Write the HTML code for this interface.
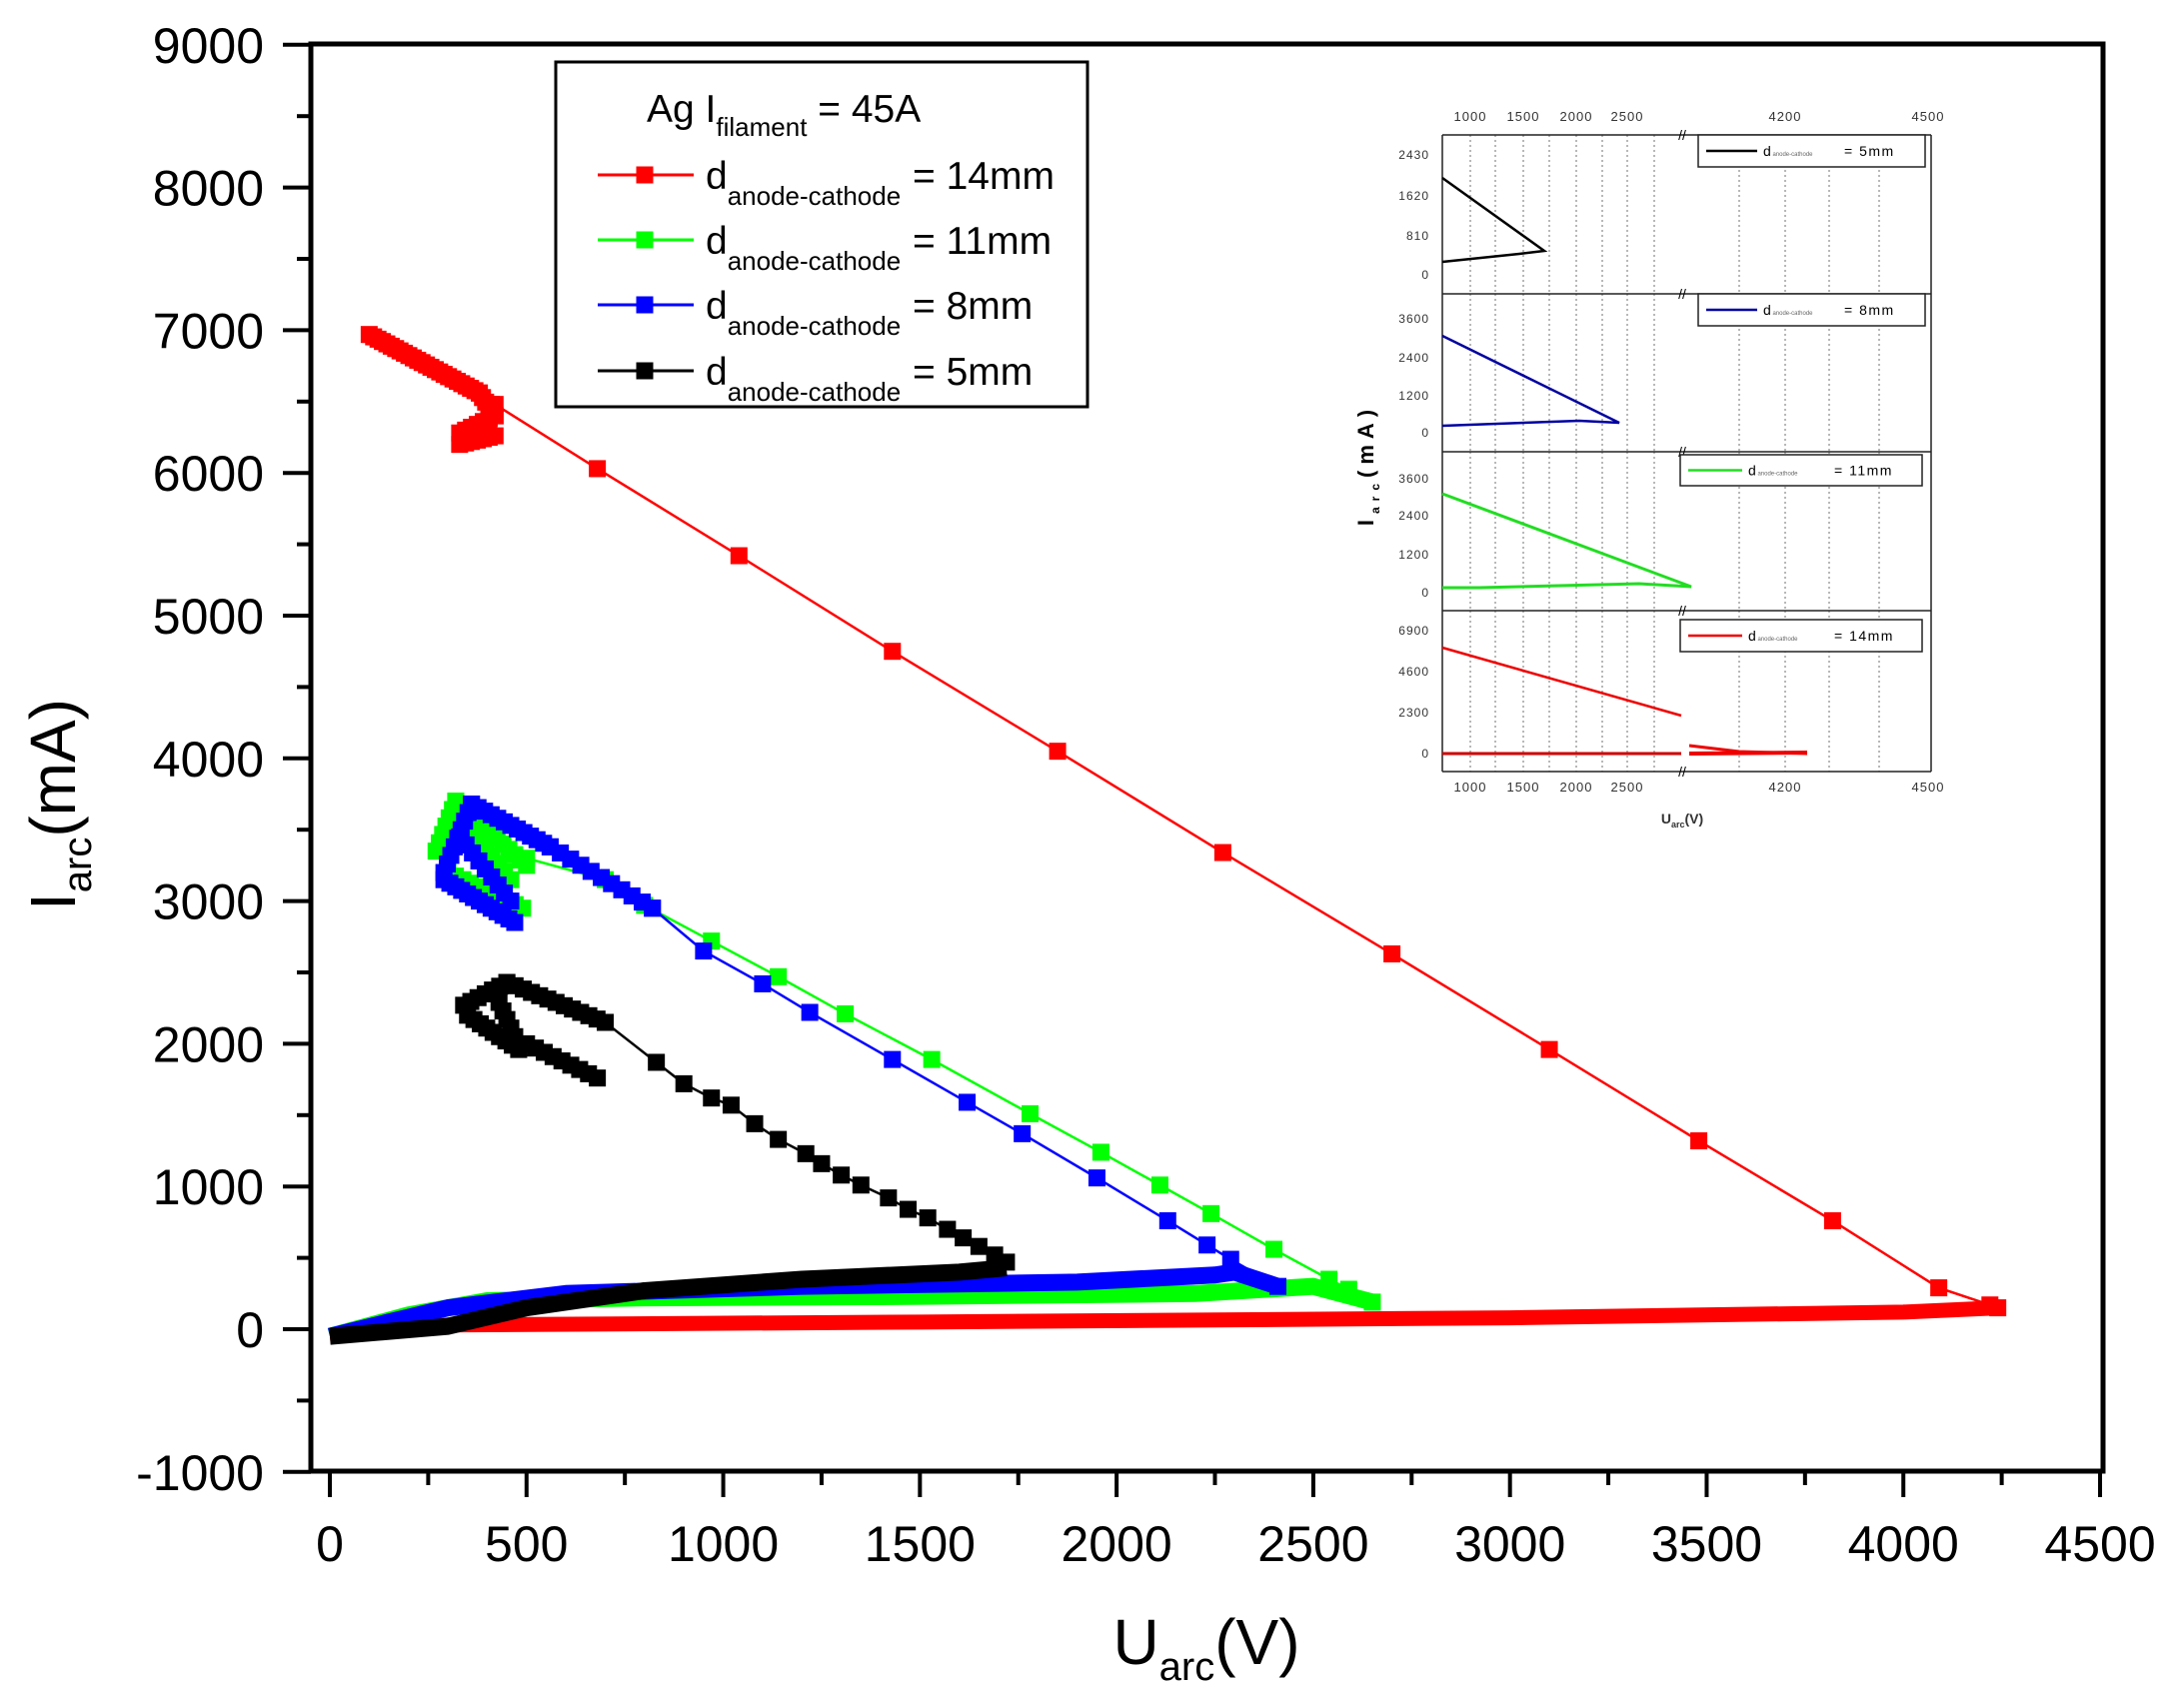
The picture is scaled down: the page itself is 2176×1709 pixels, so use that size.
<!DOCTYPE html>
<html><head><meta charset="utf-8"><style>
html,body{margin:0;padding:0;background:#fff;}
svg{display:block;font-family:"Liberation Sans",Arial,sans-serif;}
</style></head><body>
<svg id="s" width="2176" height="1709" viewBox="0 0 2176 1709" xmlns="http://www.w3.org/2000/svg">
<rect width="2176" height="1709" fill="#fff"/>
<g id="data"></g>
<rect x="311" y="44" width="1793" height="1428" fill="none" stroke="#000" stroke-width="5"/>
<g id="axes"></g>
<text x="1207" y="1665" font-size="64" text-anchor="middle">U<tspan font-size="40" dy="16">arc</tspan><tspan dy="-16">(V)</tspan></text>
<text transform="translate(75,805) rotate(-90)" font-size="64" text-anchor="middle">I<tspan font-size="40" dy="16">arc</tspan><tspan dy="-16">(mA)</tspan></text>
<rect x="556" y="62" width="532" height="345" fill="#fff" stroke="#000" stroke-width="3"/>
<text x="647" y="122" font-size="39">Ag I<tspan font-size="26" dy="14">filament</tspan><tspan dy="-14"> = 45A</tspan></text>
<g id="leg"></g>
<g id="inset"></g>
</svg>
<script>
const NS="http://www.w3.org/2000/svg";
function el(p,t,a,txt){const e=document.createElementNS(NS,t);for(const k in a)e.setAttribute(k,a[k]);if(txt!==undefined)e.textContent=txt;p.appendChild(e);return e;}
const X=v=>330+v*0.39356, Y=i=>1330-i*0.1428;
const D=document.getElementById('data'),A=document.getElementById('axes');
for(let i=-1000;i<=9000;i+=1000){const y=Y(i);el(A,'line',{x1:283,y1:y,x2:311,y2:y,stroke:'#000','stroke-width':4});
 el(A,'text',{x:264,y:y+18,'font-size':50,'text-anchor':'end'},String(i));
 if(i<9000){el(A,'line',{x1:297,y1:Y(i+500),x2:311,y2:Y(i+500),stroke:'#000','stroke-width':4});}}
for(let v=0;v<=4500;v+=500){const x=X(v);el(A,'line',{x1:x,y1:1472,x2:x,y2:1498,stroke:'#000','stroke-width':4});
 el(A,'text',{x:x,y:1562,'font-size':50,'text-anchor':'middle'},String(v));
 if(v<4500)el(A,'line',{x1:X(v+250),y1:1472,x2:X(v+250),y2:1486,stroke:'#000','stroke-width':4});}
function sq(p,x,y,c,s){el(p,'rect',{x:x-s/2,y:y-s/2,width:s,height:s,fill:c});}
function series(c,cluster,pts,band,bw){
 let bp=band.map(p=>X(p[0])+','+Y(p[1])).join(' ');
 el(D,'polyline',{points:bp,fill:'none',stroke:c,'stroke-width':bw||17,'stroke-linejoin':'round'});
 cluster.forEach(p=>sq(D,X(p[0]),Y(p[1]),c,17));
 el(D,'polyline',{points:pts.map(p=>X(p[0])+','+Y(p[1])).join(' '),fill:'none',stroke:c,'stroke-width':2.5});
 pts.forEach(p=>sq(D,X(p[0]),Y(p[1]),c,17));
}
function interp(a,b,n){const r=[];for(let k=0;k<=n;k++){const t=k/n;r.push([a[0]+(b[0]-a[0])*t,a[1]+(b[1]-a[1])*t]);}return r;}
let rc=[].concat(interp([100,6970],[380,6560],25),interp([380,6560],[420,6400],5),interp([420,6400],[330,6280],6),interp([330,6200],[420,6260],6),interp([400,6300],[410,6480],4));
series('#f00',rc,[[420,6480],[680,6030],[1040,5420],[1430,4750],[1850,4050],[2270,3340],[2700,2630],[3100,1960],[3480,1320],[3820,760],[4090,290],[4220,170],[4240,150]],[[0,-50],[300,30],[1500,50],[3000,80],[4000,120],[4240,150]],15);
let gc=[].concat(interp([270,3350],[320,3700],6),interp([320,3700],[500,3250],12),interp([300,3200],[490,2950],10),interp([330,3600],[460,3150],8));
series('#0f0',gc,[[500,3300],[700,3150],[800,2970],[970,2720],[1140,2470],[1310,2210],[1530,1890],[1780,1510],[1960,1240],[2110,1010],[2240,810],[2400,560],[2540,350],[2590,280],[2650,190]],[[0,-50],[200,100],[400,200],[800,220],[1500,230],[2200,250],[2500,300],[2650,190]]);
let bc=[].concat(interp([290,3200],[360,3680],8),interp([360,3680],[560,3380],12),interp([290,3150],[470,2850],12),interp([330,3450],[460,3000],8),interp([560,3380],[820,2950],10));
series('#00f',bc,[[820,2950],[950,2650],[1100,2420],[1220,2220],[1430,1890],[1620,1590],[1760,1370],[1950,1060],[2130,760],[2230,590],[2290,490],[2410,300]],[[0,-50],[300,150],[600,250],[1200,300],[1900,330],[2250,380],[2300,400],[2410,300]]);
let kc=[].concat(interp([340,2270],[450,2430],6),interp([450,2430],[700,2150],12),interp([350,2200],[480,1960],8),interp([500,2000],[680,1760],8),interp([420,2350],[470,2050],5));
series('#000',kc,[[700,2150],[830,1870],[900,1720],[970,1620],[1020,1570],[1080,1440],[1140,1330],[1210,1230],[1250,1160],[1300,1080],[1350,1010],[1420,920],[1470,840],[1520,780],[1570,700],[1610,640],[1650,580],[1690,520],[1720,470]],[[0,-50],[300,20],[500,150],[800,270],[1200,350],[1600,400],[1720,430]]);
const L=document.getElementById('leg');
[['#f00','14mm',175],['#0f0','11mm',240],['#00f','8mm',305],['#000','5mm',371]].forEach(e=>{
 el(L,'line',{x1:598,y1:e[2],x2:694,y2:e[2],stroke:e[0],'stroke-width':3});sq(L,645,e[2],e[0],17);
 const t=el(L,'text',{x:706,y:e[2]+14,'font-size':39});
 t.innerHTML='d<tspan font-size="26" dy="16">anode-cathode</tspan>';
 el(L,'text',{x:913,y:e[2]+14,'font-size':39},'= '+e[1]);});
const I=document.getElementById('inset');
const xl=1443,xr=1932,bnd=[135,294,452,611,772];
el(I,'rect',{x:xl,y:135,width:xr-xl,height:637,fill:'#fff'});
const gx=[1471,1496,1524,1550,1577,1603,1628,1655,1740,1786,1830,1880];
for(let p=0;p<4;p++){gx.forEach(x=>el(I,'line',{x1:x,y1:bnd[p],x2:x,y2:bnd[p+1],stroke:'#888','stroke-width':1.2,'stroke-dasharray':'2,3'}));}
for(let p=0;p<=4;p++)el(I,'line',{x1:xl,y1:bnd[p],x2:xr,y2:bnd[p],stroke:'#222','stroke-width':1.5});
el(I,'line',{x1:xl,y1:135,x2:xl,y2:772,stroke:'#222','stroke-width':1.5});
el(I,'line',{x1:xr,y1:135,x2:xr,y2:772,stroke:'#222','stroke-width':1.5});
[[1471,'1000'],[1524,'1500'],[1577,'2000'],[1628,'2500'],[1786,'4200'],[1929,'4500']].forEach(t=>{
 el(I,'text',{x:t[0],y:121,'font-size':13,'text-anchor':'middle',fill:'#333','letter-spacing':1},t[1]);
 el(I,'text',{x:t[0],y:792,'font-size':13,'text-anchor':'middle',fill:'#333','letter-spacing':1},t[1]);});
[[155,'2430'],[196,'1620'],[236,'810'],[275,'0'],[319,'3600'],[358,'2400'],[396,'1200'],[433,'0'],[479,'3600'],[516,'2400'],[555,'1200'],[593,'0'],[631,'6900'],[672,'4600'],[713,'2300'],[754,'0']].forEach(t=>
 el(I,'text',{x:1430,y:t[0]+4,'font-size':12,'text-anchor':'end',fill:'#333','letter-spacing':1},t[1]));
for(let p=0;p<=4;p++)el(I,'text',{x:1683,y:bnd[p]+5,'font-size':14,'text-anchor':'middle'},'//');
el(I,'text',{x:1683,y:824,'font-size':14,'text-anchor':'middle','font-weight':'bold',fill:'#333'},'U').innerHTML='U<tspan font-size="9" dy="4">arc</tspan><tspan dy="-4">(V)</tspan>';
const yt=el(I,'text',{transform:'translate(1374,465) rotate(-90)','font-size':22,'text-anchor':'middle','font-weight':'bold','letter-spacing':6});
yt.innerHTML='I<tspan font-size="12" dy="6">arc</tspan><tspan dy="-6">(mA)</tspan>';
function pl(pts,c,w){el(I,'polyline',{points:pts.map(p=>p.join(',')).join(' '),fill:'none',stroke:c,'stroke-width':w||2.5});}
pl([[1443,178],[1545,251],[1520,254],[1443,262]],'#000');
pl([[1443,336],[1620,423],[1580,421],[1443,426]],'#0000a0');
pl([[1443,494],[1692,587],[1640,584],[1480,588],[1443,588]],'#22dd22',3);
pl([[1443,648],[1682,716]],'#e00');pl([[1443,754],[1682,754]],'#c00',3);
pl([[1690,746],[1740,752],[1808,754]],'#e00',3);pl([[1690,754],[1808,753]],'#e00',4);
function lg(x1,y1,x2,y2,c,lx,tx,txt){el(I,'rect',{x:x1,y:y1,width:x2-x1,height:y2-y1,fill:'#fff',stroke:'#222','stroke-width':1.5});
 const m=(y1+y2)/2;el(I,'line',{x1:x1+8,y1:m,x2:lx,y2:m,stroke:c,'stroke-width':2.5});
 const t=el(I,'text',{x:lx+6,y:m+5,'font-size':14});t.innerHTML='d<tspan font-size="6" fill="#666"> anode-cathode</tspan>';
 el(I,'text',{x:tx,y:m+5,'font-size':14,'letter-spacing':1.5},txt);}
lg(1699,135,1926,167,'#000',1758,1845,'= 5mm');
lg(1699,294,1926,326,'#0000a0',1758,1845,'= 8mm');
lg(1681,455,1923,486,'#22dd22',1743,1835,'= 11mm');
lg(1681,620,1923,652,'#e00',1743,1835,'= 14mm');
</script>
</body></html>
